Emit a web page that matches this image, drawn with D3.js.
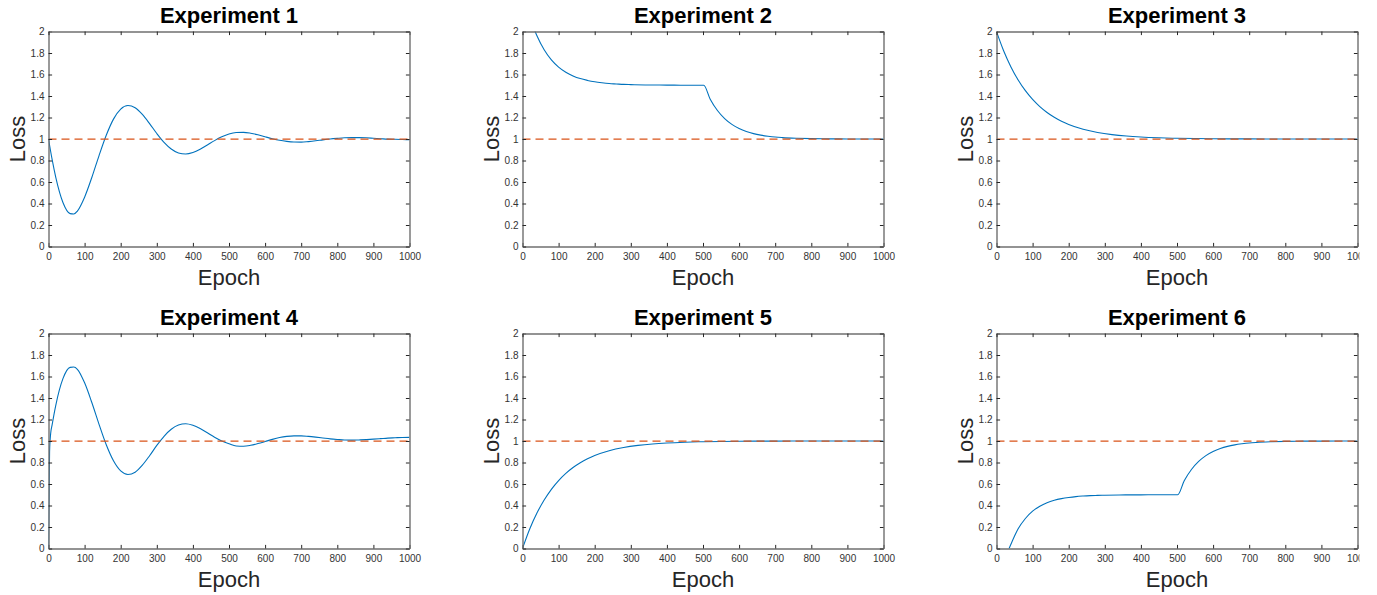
<!DOCTYPE html>
<html>
<head>
<meta charset="utf-8">
<script src="https://cdn.jsdelivr.net/npm/d3@7/dist/d3.min.js"></script>
<style>
  html, body { margin: 0; padding: 0; background: #fff; }
  svg { display: block; }
  text { font-family: "Liberation Sans", Arial, Helvetica, sans-serif; }
</style>
</head>
<body>
<svg id="chart" width="1377" height="595"></svg>
<script>
// ---------- data ----------
const titles = ["Experiment 1", "Experiment 2", "Experiment 3", "Experiment 4", "Experiment 5", "Experiment 6"];
const xTicks = [0, 100, 200, 300, 400, 500, 600, 700, 800, 900, 1000];
const yTicks = [0, 0.2, 0.4, 0.6, 0.8, 1, 1.2, 1.4, 1.6, 1.8, 2];
const xLabel = "Epoch";
const yLabel = "Loss";
const target = 1;

const epochs1 = [0,10,20,40,60,70,80,100,120,140,160,180,200,220,240,260,280,300,320,340,360,380,400,420,440,460,480,500,520,540,560,580,600,620,640,660,680,700,720,740,760,780,800,820,840,860,880,900,920,940,960,980,1000];
const loss1   = [1,0.81,0.646,0.41,0.306,0.302,0.33,0.459,0.642,0.846,1.035,1.185,1.278,1.311,1.29,1.228,1.143,1.051,0.969,0.907,0.87,0.86,0.874,0.904,0.944,0.985,1.02,1.046,1.06,1.062,1.054,1.04,1.021,1.003,0.988,0.978,0.972,0.971,0.976,0.983,0.992,1.0,1.006,1.011,1.013,1.013,1.011,1.007,1.003,0.999,0.997,0.995,0.994];

const epochs2 = [0,20,35,40,60,80,100,120,140,160,180,200,220,240,260,280,300,340,380,420,460,502,520,540,560,580,600,620,640,660,680,700,720,760,800,850,900,1000];
const loss2   = [2.396,2.142,2.0,1.96,1.83,1.736,1.669,1.621,1.587,1.562,1.545,1.532,1.523,1.516,1.512,1.508,1.506,1.503,1.502,1.501,1.5,1.5,1.37,1.265,1.19,1.136,1.098,1.07,1.05,1.036,1.026,1.018,1.013,1.007,1.0035,1.0015,1.0007,1.0];

const epochs3 = [0,20,40,60,80,100,120,140,160,180,200,240,280,320,360,400,450,500,600,700,800,900,1000];
const loss3   = [2,1.8187,1.6703,1.5488,1.4493,1.3679,1.3012,1.2466,1.2019,1.1653,1.1353,1.0907,1.0608,1.0408,1.0273,1.0183,1.0111,1.0067,1.0025,1.0009,1.0003,1.0001,1.0];

const epochs4 = [0,3,6,10,20,40,60,70,80,100,120,140,160,180,200,220,240,260,280,300,320,340,360,380,400,420,440,460,480,500,520,540,560,580,600,620,640,660,680,700,720,740,760,780,800,820,840,860,880,900,920,940,960,980,1000];
const loss4   = [0,0.9,1.07,1.15,1.33,1.58,1.685,1.688,1.667,1.541,1.358,1.155,0.965,0.816,0.722,0.689,0.71,0.775,0.863,0.959,1.044,1.109,1.148,1.16,1.146,1.116,1.076,1.035,1.0,0.974,0.953,0.951,0.96,0.976,0.995,1.015,1.032,1.043,1.048,1.048,1.043,1.036,1.028,1.02,1.014,1.009,1.008,1.01,1.013,1.017,1.022,1.027,1.03,1.033,1.034];

const epochs5 = [0,20,40,60,80,100,120,140,160,180,200,240,280,320,360,400,450,500,600,700,800,900,1000];
const loss5   = [0,0.1813,0.3297,0.4512,0.5507,0.6321,0.6988,0.7534,0.7981,0.8347,0.8647,0.9093,0.9392,0.9592,0.9727,0.9817,0.9889,0.9933,0.9975,0.9991,0.9997,0.9999,1.0];

const epochs6 = [0,20,35,40,60,80,100,120,140,160,180,200,220,240,260,280,300,340,380,420,460,502,520,540,560,580,600,620,640,660,680,700,720,760,800,850,900,1000];
const loss6   = [-0.445,-0.157,0,0.04,0.183,0.279,0.347,0.393,0.426,0.4485,0.464,0.475,0.483,0.488,0.4917,0.4942,0.496,0.498,0.499,0.4995,0.5,0.5,0.63,0.735,0.81,0.864,0.902,0.93,0.95,0.964,0.974,0.982,0.987,0.993,0.9965,0.9985,0.9993,1.0];

const panelEpochs = [epochs1, epochs2, epochs3, epochs4, epochs5, epochs6];
const panelLoss   = [loss1, loss2, loss3, loss4, loss5, loss6];

// ---------- layout ----------
const colX = [48.5, 522.5, 996.5];
const rowY = [31.5, 333.5];
const W = 361, H = 215;
const lineBlue = "#0072BD";
const lineRed = "#D95319";
const axisCol = "#262626";

const svg = d3.select("#chart");
const defs = svg.append("defs");
defs.append("clipPath").attr("id", "pageclip")
  .append("rect").attr("x", 0).attr("y", 0).attr("width", 1359.5).attr("height", 595);
defs.append("clipPath").attr("id", "plotclip")
  .append("rect").attr("x", 0).attr("y", 0).attr("width", W).attr("height", H);

const root = svg.append("g").attr("clip-path", "url(#pageclip)");

const x = d3.scaleLinear().domain([0, 1000]).range([0, W]);
const y = d3.scaleLinear().domain([0, 2]).range([H, 0]);
const fmt = d => String(+d.toFixed(1));

titles.forEach((title, i) => {
  const col = i % 3, row = Math.floor(i / 3);
  const g = root.append("g").attr("transform", `translate(${colX[col]},${rowY[row]})`);

  // data line
  const data = panelEpochs[i].map((e, k) => [e, panelLoss[i][k]]);
  const line = d3.line().x(d => x(d[0])).y(d => y(d[1])).curve(d3.curveMonotoneX);
  const plot = g.append("g").attr("clip-path", "url(#plotclip)");
  plot.append("path").datum(data)
    .attr("d", line)
    .attr("fill", "none")
    .attr("stroke", lineBlue)
    .attr("stroke-width", 1.1);
  // target dashed line
  plot.append("path").datum([[0, target], [1000, target]])
    .attr("d", d3.line().x(d => x(d[0])).y(d => y(d[1])))
    .attr("fill", "none")
    .attr("stroke", lineRed)
    .attr("stroke-width", 1.25)
    .attr("stroke-dasharray", "8,5");

  // axes (ticks inward, box on)
  const tk = -3.6;
  const ax = [
    g.append("g").attr("transform", `translate(0,${H})`)
      .call(d3.axisBottom(x).tickValues(xTicks).tickFormat(fmt).tickSizeInner(tk).tickSizeOuter(0).tickPadding(6.5)),
    g.append("g")
      .call(d3.axisLeft(y).tickValues(yTicks).tickFormat(fmt).tickSizeInner(tk).tickSizeOuter(0).tickPadding(4)),
    g.append("g")
      .call(d3.axisTop(x).tickValues(xTicks).tickFormat("").tickSizeInner(tk).tickSizeOuter(0)),
    g.append("g").attr("transform", `translate(${W},0)`)
      .call(d3.axisRight(y).tickValues(yTicks).tickFormat("").tickSizeInner(tk).tickSizeOuter(0))
  ];
  ax.forEach(a => {
    a.select(".domain").attr("stroke", "#6f6f6f").attr("stroke-width", 1.4);
    a.selectAll(".tick line").attr("stroke", axisCol).attr("stroke-width", 1);
    a.selectAll(".tick text")
      .attr("fill", "#333")
      .style("font-size", "10px")
      .style("font-family", "'Liberation Sans', Arial, Helvetica, sans-serif");
  });

  // title
  g.append("text")
    .attr("x", W / 2).attr("y", -8.3)
    .attr("text-anchor", "middle")
    .attr("fill", "#000")
    .style("font-size", "22px").style("font-weight", "bold")
    .text(title);
  // x label
  g.append("text")
    .attr("x", W / 2).attr("y", H + 38.5)
    .attr("text-anchor", "middle")
    .attr("fill", "#262626")
    .style("font-size", "22px")
    .text(xLabel);
  // y label
  g.append("text")
    .attr("transform", `translate(${-23.5},${H / 2}) rotate(-90)`)
    .attr("text-anchor", "middle")
    .attr("fill", "#262626")
    .style("font-size", "22px")
    .text(yLabel);
});
</script>
</body>
</html>
